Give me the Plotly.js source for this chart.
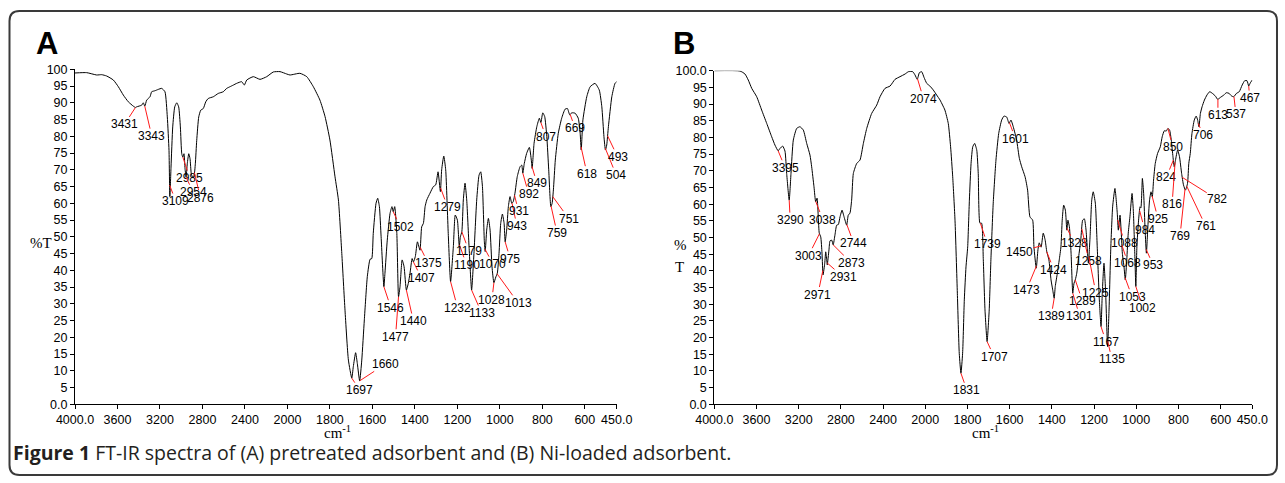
<!DOCTYPE html>
<html>
<head>
<meta charset="utf-8">
<script src="https://cdn.plot.ly/plotly-3.0.1.min.js"></script>
<style>html,body{margin:0;padding:0;background:#fff;}#chart{width:1285px;height:483px;}</style>
</head>
<body>
<div id="chart"></div>
<script>
// ---------- DATA ----------
// Panel A: pretreated adsorbent (wavenumber cm-1, %T)
const wnA = [4000,3890,3796,3749,3702,3639,3592,3545,3498,3451,3431,3419,3372,3357,3343,3325,3294,3278,3247,3216,3184,3153,3131,3115,3107,3096,3080,3061,3042,3024,3008,2995,2985,2974,2964,2954,2943,2929,2917,2905,2892,2879,2867,2854,2835,2816,2792,2769,2745,2698,2651,2604,2572,2541,2509,2478,2431,2406,2383,2321,2258,2195,2133,2070,2007,1988,1941,1909,1878,1847,1823,1800,1776,1760,1744,1729,1713,1697,1690,1679,1671,1660,1650,1638,1624,1611,1603,1596,1583,1575,1567,1559,1546,1541,1530,1517,1508,1502,1495,1485,1477,1470,1460,1451,1440,1431,1423,1413,1407,1398,1388,1376,1368,1360,1352,1344,1329,1313,1302,1291,1280,1274,1264,1255,1243,1232,1219,1210,1200,1191,1186,1179,1172,1164,1156,1145,1133,1122,1109,1098,1090,1082,1073,1069,1062,1054,1046,1037,1028,1019,1012,1004,996,988,980,975,968,960,952,944,937,929,918,905,897,892,885,874,861,852,848,839,826,814,807,798,789,779,770,760,754,748,739,725,709,693,682,671,662,646,631,622,617,609,591,575,552,532,520,510,503,497,489,473,458,450];
const tA  = [98.9,99.0,98.3,98.4,98.0,96.8,94.8,92.3,90.3,89.0,88.6,88.8,89.3,90.0,89.0,90.8,91.8,93.3,93.6,94.0,94.3,93.3,85.8,75.8,62.0,70.8,82.8,88.8,90.0,88.8,82.8,74.8,73.8,74.8,70.3,67.8,71.8,74.8,73.3,68.8,67.8,68.3,71.8,78.8,85.8,87.8,88.3,90.3,91.3,91.8,92.8,93.3,94.3,94.8,95.3,95.8,96.3,95.3,96.8,97.8,97.0,97.8,99.2,99.3,98.6,98.3,98.8,97.8,94.8,90.8,85.9,78.9,67.9,61.0,45.0,28.1,13.2,7.8,11.2,15.4,12.2,7.0,13.2,25.2,38.1,43.3,43.5,51.0,60.0,61.5,59.0,50.0,35.1,39.1,49.0,57.0,59.0,57.5,59.0,51.0,32.1,35.1,43.1,41.1,34.1,36.1,39.1,43.5,42.5,44.1,48.5,46.0,53.0,54.0,59.0,61.0,63.0,65.0,65.5,69.4,63.5,70.0,74.1,70.0,51.0,36.6,47.0,56.5,55.0,47.0,50.0,51.5,61.0,66.0,61.0,47.0,34.1,45.0,61.0,68.4,69.4,65.0,48.5,45.6,52.0,55.5,52.0,41.1,36.3,38.0,39.1,45.0,54.0,56.8,54.0,48.5,52.0,59.0,62.0,60.0,60.5,63.0,68.0,70.9,71.4,69.0,71.9,74.9,76.7,72.9,70.4,77.9,82.9,85.4,84.1,87.0,85.9,79.9,70.0,59.0,60.0,64.0,72.9,80.9,85.4,88.1,88.3,86.4,87.0,86.9,85.4,80.9,75.9,84.9,91.8,94.8,95.8,93.8,88.8,79.9,75.9,77.4,82.9,91.8,95.8,96.3];

// Panel B: Ni-loaded adsorbent
const wnB = [4000,3756,3709,3678,3645,3598,3551,3503,3456,3425,3395,3377,3352,3330,3314,3290,3273,3251,3219,3188,3156,3124,3093,3077,3055,3039,3026,3014,3005,2991,2979,2969,2953,2944,2934,2929,2913,2903,2887,2873,2856,2840,2824,2808,2789,2770,2745,2730,2714,2698,2682,2650,2619,2587,2555,2508,2460,2429,2382,2334,2287,2240,2192,2160,2119,2097,2076,2056,2034,2012,1993,1978,1962,1946,1930,1918,1907,1891,1880,1870,1859,1848,1839,1831,1823,1815,1807,1799,1791,1783,1775,1766,1756,1749,1741,1733,1725,1717,1707,1697,1689,1678,1665,1652,1638,1627,1614,1603,1594,1583,1567,1554,1543,1527,1515,1504,1491,1485,1474,1466,1460,1451,1441,1432,1424,1414,1404,1396,1389,1384,1374,1365,1357,1351,1344,1336,1329,1324,1317,1309,1301,1295,1289,1282,1273,1263,1254,1246,1238,1227,1219,1211,1204,1194,1185,1175,1167,1161,1153,1145,1136,1129,1121,1112,1101,1090,1085,1077,1071,1066,1058,1052,1045,1038,1030,1020,1014,1007,1002,997,989,982,978,971,965,958,952,945,937,930,924,918,910,899,886,877,867,858,850,842,834,826,820,814,804,795,785,776,767,757,751,744,736,725,716,709,703,696,688,677,665,652,639,625,614,601,585,573,560,548,538,525,512,498,486,475,467,459,450];
const tB  = [100,99.9,99.0,97.2,94.7,92.2,88.2,84.2,80.2,77.7,76.0,76.7,77.4,75.9,69.2,61.2,69.2,79.2,82.7,83.2,82.2,78.2,74.7,71.2,65.2,60.7,61.8,56.0,51.3,50.2,45.3,38.8,42.3,45.7,43.3,41.8,46.3,49.0,49.2,47.8,50.8,53.7,53.9,56.2,58.2,56.2,53.7,56.7,57.3,61.2,69.2,72.2,73.2,78.2,82.7,87.2,89.7,92.2,94.7,95.4,97.4,98.2,99.0,99.7,99.7,98.7,97.4,99.4,99.7,98.0,96.2,95.4,94.2,92.7,91.2,89.7,88.2,84.2,77.2,68.2,55.0,33.3,15.3,9.3,15.3,31.3,41.2,47.2,61.2,72.2,77.2,78.2,76.2,69.2,54.3,54.3,43.3,28.3,18.8,28.3,43.3,60.3,73.2,81.2,85.2,86.4,86.1,84.2,85.2,83.2,79.2,73.7,71.2,68.2,64.2,56.2,55.2,47.2,40.8,46.3,48.4,47.1,51.3,49.3,45.7,43.3,37.3,34.3,31.8,35.3,39.3,43.3,47.2,55.2,59.7,58.2,52.2,55.2,53.2,45.3,33.3,36.3,37.3,39.3,44.2,49.3,55.2,55.6,52.2,42.3,50.2,61.2,63.7,60.3,47.2,31.3,23.3,33.3,42.3,33.3,17.3,28.3,46.3,59.2,64.7,57.3,52.2,56.7,51.3,45.3,41.2,37.3,43.3,51.3,56.2,63.2,58.2,45.3,35.3,47.2,55.2,59.2,58.9,67.7,63.2,52.2,45.3,53.2,61.2,63.7,62.2,67.2,72.2,75.2,77.2,80.2,82.0,81.9,82.7,82.2,79.2,74.2,71.2,73.2,76.2,74.2,69.2,65.7,64.2,66.2,72.2,75.2,81.2,85.2,86.4,85.2,83.2,87.2,89.2,91.2,92.7,93.7,93.2,92.4,91.4,92.0,92.7,93.4,93.2,92.4,92.2,93.2,93.7,95.7,97.0,97.0,95.4,96.4,97.2];

// Peak labels
const peaksA = [3431,3343,3109,2985,2954,2876,1697,1660,1546,1502,1477,1440,1407,1375,1279,1232,1190,1179,1133,1070,1028,1013,975,943,931,892,849,807,759,751,669,618,504,493];
const peaksB = [3395,3290,3038,3003,2971,2931,2873,2744,2074,1831,1739,1707,1601,1473,1450,1424,1389,1328,1301,1289,1258,1225,1167,1135,1088,1068,1053,1002,984,953,925,850,824,816,769,761,782,706,613,537,467];

// Axis ticks
const xTickVals = [4000,3600,3200,2800,2400,2000,1800,1600,1400,1200,1000,800,600,450];
const xTickText = ['4000.0','3600','3200','2800','2400','2000','1800','1600','1400','1200','1000','800','600','450.0'];
const yTickVals = [0,5,10,15,20,25,30,35,40,45,50,55,60,65,70,75,80,85,90,95,100];
const yTickTextA = ['0.0','5','10','15','20','25','30','35','40','45','50','55','60','65','70','75','80','85','90','95','100'];
const yTickTextB = ['0.0','5','10','15','20','25','30','35','40','45','50','55','60','65','70','75','80','85','90','95','100.0'];

// ---------- LAYOUT HELPERS (label offsets in px: text centre relative to peak) ----------
const offA = {3431:[-11,17],3343:[7,30],3109:[6,16],2985:[7,21],2954:[7,15],2876:[6,25],1697:[8,12],1660:[26,-17],1546:[7,21],1502:[7,15],1477:[-3,40],1440:[7,31],1407:[8,16],1375:[8,16],1279:[7,19],1232:[7,26],1190:[7,20],1179:[7,19],1133:[10,23],1070:[8,15],1028:[-2,17],1013:[21,29],975:[5,17],943:[5,23],931:[4,16],892:[6,21],849:[5,17],807:[5,14],759:[6,27],751:[16,22],669:[5,14],618:[6,27],504:[11,27],493:[10,21]};
const offB = {3395:[7,17],3290:[1,20],3038:[7,18],3003:[-11,22],2971:[-5,24],2931:[16,14],2873:[18,18],2744:[7,19],2074:[6,20],1831:[6,17],1739:[7,21],1707:[7,15],1601:[6,16],1473:[-10,24],1450:[-22,6],1424:[7,18],1389:[-3,18],1328:[7,15],1301:[7,23],1289:[7,21],1258:[7,32],1225:[7,36],1167:[5,15],1135:[4,18],1088:[7,23],1068:[6,18],1053:[7,19],1002:[7,21],984:[5,19],953:[7,16],925:[6,23],850:[5,19],824:[-7,17],816:[-3,42],769:[-5,47],761:[19,40],782:[35,22],706:[5,12],613:[0,16],537:[2,18],467:[1,12]};

// Non-linear wavenumber scale: above 2000 cm-1 compressed by factor 2
function u(w){ return w > 2000 ? 2000 + (w - 2000) / 2 : w; }
function interp(xs, ys, w){
  for (let i = 0; i < xs.length - 1; i++){
    if (w <= xs[i] && w >= xs[i+1]){
      const f = (xs[i] - w) / (xs[i] - xs[i+1]);
      return ys[i] + f * (ys[i+1] - ys[i]);
    }
  }
  return ys[ys.length-1];
}

const W = 1285, H = 483;
const pxX = v => v / W;
const pxY = v => 1 - v / H;

const traces = [
  {x: wnA.map(u), y: tA, xaxis:'x', yaxis:'y', mode:'lines', line:{color:'#000', width:1, shape:'spline', smoothing:0.5}, hoverinfo:'skip'},
  {x: wnB.map(u), y: tB, xaxis:'x2', yaxis:'y2', mode:'lines', line:{color:'#000', width:1, shape:'spline', smoothing:0.5}, hoverinfo:'skip'}
];

const labelFont = {family:'Liberation Sans, Arial, sans-serif', size:12, color:'#000'};
const annotations = [];
function addPeaks(peaks, off, wn, t, xr, yr){
  peaks.forEach(p => {
    const o = off[p] || [6,18];
    annotations.push({x: u(p), y: interp(wn, t, p), xref: xr, yref: yr, text: String(p),
      showarrow: true, arrowhead: 0, arrowwidth: 1, arrowcolor: '#ff1a1a', ax: o[0], ay: o[1],
      standoff: 0, startstandoff: 0, borderpad: 0, font: labelFont});
  });
}
addPeaks(peaksA, offA, wnA, tA, 'x', 'y');
addPeaks(peaksB, offB, wnB, tB, 'x2', 'y2');

const serif = {family:'Liberation Serif, Times New Roman, serif', size:15, color:'#000'};
function paperText(text, x, y, font, xanchor){
  annotations.push({text, x: pxX(x), y: pxY(y), xref:'paper', yref:'paper', showarrow:false,
    xanchor: xanchor || 'center', yanchor:'middle', font});
}
paperText('<b>A</b>', 46.5, 43.5, {family:'Liberation Sans, Arial, sans-serif', size:31, color:'#000'});
paperText('<b>B</b>', 683.5, 43.5, {family:'Liberation Sans, Arial, sans-serif', size:31, color:'#000'});
paperText('%T', 41, 243, serif);
paperText('%', 680, 245, serif);
paperText('T', 679.5, 266.5, serif);
paperText('cm<sup>-1</sup>', 337, 432, serif);
paperText('cm<sup>-1</sup>', 985, 432, serif);
paperText('<b>Figure 1</b> FT-IR spectra of (A) pretreated adsorbent and (B) Ni-loaded adsorbent.', 11, 452,
  {family:'Open Sans, sans-serif', size:19.5, color:'#231f20'}, 'left');

// rounded border
const bx0 = 9.5, by0 = 11, bx1 = 1277, by1 = 475, r = 10;
const P = (x, y) => pxX(x).toFixed(5) + ',' + pxY(y).toFixed(5);
const borderPath = 'M' + P(bx0 + r, by0) + ' L' + P(bx1 - r, by0) + ' Q' + P(bx1, by0) + ' ' + P(bx1, by0 + r) +
  ' L' + P(bx1, by1 - r) + ' Q' + P(bx1, by1) + ' ' + P(bx1 - r, by1) +
  ' L' + P(bx0 + r, by1) + ' Q' + P(bx0, by1) + ' ' + P(bx0, by1 - r) +
  ' L' + P(bx0, by0 + r) + ' Q' + P(bx0, by0) + ' ' + P(bx0 + r, by0) + ' Z';

const tickFont = {family:'Liberation Sans, Arial, sans-serif', size:12.5, color:'#000'};
const xBase = {range:[u(4000), u(450)], tickvals: xTickVals.map(u), ticktext: xTickText, tickmode:'array',
  ticks:'outside', ticklen:4, tickcolor:'#000', showline:true, linecolor:'#000', linewidth:1,
  showgrid:false, zeroline:false, tickfont: tickFont, fixedrange:true};
const yBase = {range:[0,100], tickvals: yTickVals, tickmode:'array', ticks:'outside', ticklen:4, tickcolor:'#000',
  showline:true, linecolor:'#000', linewidth:1, showgrid:false, zeroline:false, tickfont: tickFont, fixedrange:true};

const layout = {
  width: W, height: H, margin:{l:0, r:0, t:0, b:0}, paper_bgcolor:'#fff', plot_bgcolor:'rgba(0,0,0,0)',
  showlegend:false,
  xaxis: Object.assign({}, xBase, {domain:[pxX(75), pxX(616.7)], anchor:'y'}),
  yaxis: Object.assign({}, yBase, {domain:[pxY(404.3), pxY(69.3)], anchor:'x', ticktext: yTickTextA}),
  xaxis2: Object.assign({}, xBase, {domain:[pxX(714.3), pxX(1252.3)], anchor:'y2'}),
  yaxis2: Object.assign({}, yBase, {domain:[pxY(404.3), pxY(70.7)], anchor:'x2', ticktext: yTickTextB}),
  annotations,
  shapes:[{type:'path', path: borderPath, xref:'paper', yref:'paper', line:{color:'#3a3a3a', width:2}, fillcolor:'rgba(0,0,0,0)'}]
};

Plotly.newPlot('chart', traces, layout, {staticPlot:true, displayModeBar:false});
</script>
</body>
</html>
